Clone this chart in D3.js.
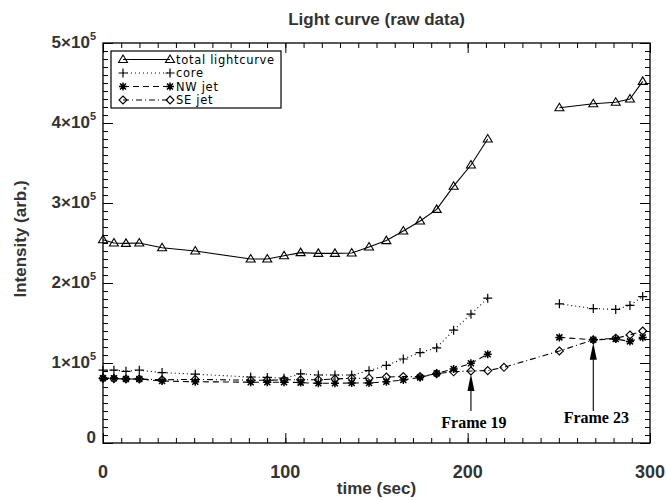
<!DOCTYPE html>
<html>
<head>
<meta charset="utf-8">
<script src="https://cdn.jsdelivr.net/npm/d3@7/dist/d3.min.js"></script>
<style>
body { margin: 0; background: #fff; }
</style>
</head>
<body>
<div id="canvas"></div>
<script>
// time of each frame (sec), frame 0 .. 26
var time = [0, 6, 12.6, 19.9, 32.4, 50.6, 81, 90.1, 99.3, 108.4, 118.1, 127.2, 136.4, 145.9, 155.4,
            164.7, 173.9, 183, 192.3, 201.8, 211, 219.9, 250.3, 268.9, 281.2, 289, 296];
// intensities (arb.), null = frame missing
var total = [254000, 250000, 249500, 250000, 244000, 240000, 230000, 230000, 234000, 238000, 237000,
             237000, 237500, 245000, 253000, 265000, 277500, 292000, 321000, 347500, 380000, null,
             419000, 424000, 426000, 430000, 452000];
var core = [91000, 91000, 89600, 91000, 88000, 86000, 82500, 82000, 81000, 86500, 85000, 85000, 85000,
            90400, 97000, 105000, 113000, 119000, 141000, 161000, 181000, null,
            174000, 168000, 167000, 172000, 183000];
var nwJet = [81000, 81000, 80000, 80000, 77500, 76600, 76000, 76000, 76000, 75500, 74600, 74600, 75000,
             75000, 76600, 78800, 82000, 87000, 92500, 99600, 111000, null,
             132000, 129000, 130000, 127000, 132000];
var seJet = [81000, 80500, 80000, 80000, 79000, 79500, 78500, 78500, 79000, 79000, 79000, 80000, 81000,
             81000, 82500, 83000, 83000, 86700, 89000, 90000, 90500, 94600,
             115000, 129000, 131000, 135000, 140000];
var seriesNames = ["total lightcurve", "core", "NW jet", "SE jet"];
var xTicks = [0, 100, 200, 300];
var yTicks = [0, 1e5, 2e5, 3e5, 4e5, 5e5];
var frameMarks = [19, 23];
var frameRef = [seJet, nwJet];

draw();

function draw(){
	var w = 666, h = 500;
	var svg = d3.select("#canvas").append("svg")
				.attr("width", w)
				.attr("height", h)
				.style("font-family", "'Liberation Sans', Arial, sans-serif");

	var x = d3.scaleLinear().domain([0, 300]).range([103, 650]);
	var y = d3.scaleLinear().domain([0, 5e5]).range([443, 43]);

	// title
	svg.append("text")
		.attr("x", (x(0) + x(300)) / 2).attr("y", 25)
		.attr("text-anchor", "middle")
		.style("font-size", "17px").style("font-weight", "bold").attr("fill", "#333")
		.text("Light curve (raw data)");

	// inward ticks on all four sides
	var minorX = d3.range(0, 301, 10), minorY = d3.range(0, 5e5 + 1, 1e4);
	function ticks(axis, vals, size, tr){
		var g = svg.append("g").attr("transform", tr)
			.call(axis.tickValues(vals).tickSize(size).tickFormat(""));
		g.select(".domain").remove();
		g.selectAll("line").attr("stroke", "#000");
		return g;
	}
	ticks(d3.axisBottom(x), minorX, -5, "translate(0," + y(0) + ")");
	ticks(d3.axisBottom(x), xTicks, -10, "translate(0," + y(0) + ")");
	ticks(d3.axisTop(x), minorX, -5, "translate(0," + y(5e5) + ")");
	ticks(d3.axisTop(x), xTicks, -10, "translate(0," + y(5e5) + ")");
	ticks(d3.axisLeft(y), minorY, -5, "translate(" + x(0) + ",0)");
	ticks(d3.axisLeft(y), yTicks, -10, "translate(" + x(0) + ",0)");
	ticks(d3.axisRight(y), minorY, -5, "translate(" + x(300) + ",0)");
	ticks(d3.axisRight(y), yTicks, -10, "translate(" + x(300) + ",0)");

	svg.append("rect")
		.attr("x", x(0)).attr("y", y(5e5))
		.attr("width", x(300) - x(0)).attr("height", y(0) - y(5e5))
		.attr("fill", "none").attr("stroke", "#000").attr("stroke-width", 1.3);

	// x labels
	svg.append("g").selectAll("text").data(xTicks).join("text")
		.attr("x", function(d){ return x(d); })
		.attr("y", 478)
		.attr("text-anchor", "middle")
		.style("font-size", "18px").style("font-weight", "bold").attr("fill", "#333")
		.text(function(d){ return d; });

	// y labels with superscript
	var yl = svg.append("g").selectAll("text").data(yTicks).join("text")
		.attr("x", 96)
		.attr("y", function(d){ return d == 0 ? y(d) : y(d) + 4.5; })
		.attr("text-anchor", "end")
		.style("font-size", "17px").style("font-weight", "bold").attr("fill", "#333");
	yl.each(function(d){
		var t = d3.select(this);
		if (d == 0) { t.text("0"); return; }
		t.append("tspan").text((d / 1e5) + "\u00d710");
		t.append("tspan").attr("dy", -8).style("font-size", "11px").text("5");
	});

	svg.append("text")
		.attr("x", (x(0) + x(300)) / 2).attr("y", 494)
		.attr("text-anchor", "middle")
		.style("font-size", "17px").style("font-weight", "bold").attr("fill", "#333")
		.text("time (sec)");
	svg.append("text")
		.attr("transform", "translate(26," + 239 + ") rotate(-90)")
		.attr("text-anchor", "middle")
		.style("font-size", "17px").style("font-weight", "bold").attr("fill", "#333")
		.text("Intensity (arb.)");

	// series
	var sym = {
		tri: "M0,-4.5L4.5,3L-4.5,3Z",
		plus: "M-4.5,0H4.5M0,-4.5V4.5",
		star: "M-4,0H4M0,-4V4M-3,-3L3,3M-3,3L3,-3",
		diamond: "M0,-4L4,0L0,4L-4,0Z"
	};
	var series = [
		{name: seriesNames[0], vals: total, dash: null, sym: sym.tri, sw: 1.1},
		{name: seriesNames[1], vals: core, dash: "1,3", sym: sym.plus, sw: 1.2},
		{name: seriesNames[2], vals: nwJet, dash: "6,4", sym: sym.star, sw: 1.5},
		{name: seriesNames[3], vals: seJet, dash: "6,3,1,3", sym: sym.diamond, sw: 1.1}
	];

	var line = d3.line()
		.defined(function(d){ return d.v != null; })
		.x(function(d){ return x(d.t); })
		.y(function(d){ return y(d.v); });

	series.forEach(function(s){
		var pts = time.map(function(t, i){ return {t: t, v: s.vals[i]}; });
		svg.append("path").datum(pts)
			.attr("d", line)
			.attr("fill", "none").attr("stroke", "#000").attr("stroke-width", 1.1)
			.attr("stroke-dasharray", s.dash);
		svg.append("g").selectAll("path")
			.data(pts.filter(function(d){ return d.v != null; }))
			.join("path")
			.attr("transform", function(d){ return "translate(" + x(d.t) + "," + y(d.v) + ")"; })
			.attr("d", s.sym)
			.attr("fill", "none").attr("stroke", "#000").attr("stroke-width", s.sw);
	});

	// legend
	var lg = svg.append("g");
	lg.append("rect").attr("x", 111).attr("y", 51).attr("width", 170).attr("height", 57)
		.attr("fill", "#fff").attr("stroke", "#000").attr("stroke-width", 1.2);
	series.forEach(function(s, i){
		var ry = 59.5 + i * 13.5;
		lg.append("line").attr("x1", 123).attr("x2", 170).attr("y1", ry).attr("y2", ry)
			.attr("stroke", "#000").attr("stroke-width", 1.1).attr("stroke-dasharray", s.dash);
		[123, 170].forEach(function(px){
			lg.append("path").attr("transform", "translate(" + px + "," + ry + ")")
				.attr("d", s.sym).attr("fill", "none").attr("stroke", "#000").attr("stroke-width", s.sw);
		});
		lg.append("text").attr("x", 176).attr("y", ry + 4)
			.style("font-family", "'DejaVu Sans', sans-serif").style("font-size", "11.5px")
			.style("letter-spacing", "0.7px")
			.text(s.name);
	});

	// frame annotations
	var labelY = [428, 423];
	frameMarks.forEach(function(f, i){
		var ax = x(time[f]);
		var tip = y(frameRef[i][f]) + 3;
		svg.append("line").attr("x1", ax).attr("x2", ax).attr("y1", tip + 15).attr("y2", 411)
			.attr("stroke", "#000").attr("stroke-width", 1.1);
		svg.append("path")
			.attr("d", "M" + ax + "," + tip + "L" + (ax + 3.5) + "," + (tip + 17) + "L" + (ax - 3.5) + "," + (tip + 17) + "Z")
			.attr("fill", "#000");
		svg.append("text").attr("x", ax + 3).attr("y", labelY[i])
			.attr("text-anchor", "middle")
			.style("font-family", "'Liberation Serif', 'DejaVu Serif', serif")
			.style("font-size", "16px").style("font-weight", "bold")
			.text("Frame " + f);
	});
}
</script>
</body>
</html>
